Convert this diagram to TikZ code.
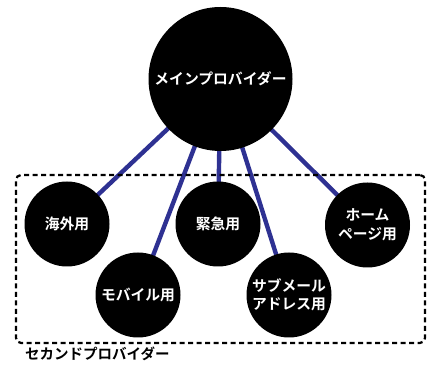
\documentclass[tikz,border=0pt]{standalone}
\usepackage{fontspec}
\newfontfamily\jpfont{Noto Sans CJK JP Bold}
\usetikzlibrary{backgrounds}
\definecolor{linkblue}{RGB}{46,49,146}
\tikzset{
  bigcirc/.style={circle, fill=black, minimum size=144pt, inner sep=0pt, text=white, font=\jpfont\fontsize{14.8}{18}\selectfont, align=center},
  smallcirc/.style={circle, fill=black, minimum size=85pt, inner sep=0pt, text=white, font=\jpfont\fontsize{14.8}{18.5}\selectfont, align=center},
  link/.style={draw=linkblue, line width=4.4pt},
  groupbox/.style={draw=black, line width=2.2pt, dash pattern=on 5pt off 3.5pt, rounded corners=5pt},
  grouplabel/.style={font=\jpfont\fontsize{14.5}{16}\selectfont, anchor=west, inner sep=0pt}
}
\begin{document}
\begin{tikzpicture}[x=1pt, y=-1pt]
\useasboundingbox (0,0) rectangle (437,366);
\node[groupbox, minimum width=409pt, minimum height=168pt, inner sep=0pt] (box) at (220.5,259) {};
\node[grouplabel] (lbl) at (25,354) {セカンドプロバイダー};
\node[bigcirc] (main) at (220.5,79) {メインプロバイダー};
\node[smallcirc] (kaigai) at (67,224) {海外用};
\node[smallcirc] (kinkyu) at (218,224) {緊急用};
\node[smallcirc] (home) at (367.5,225) {ホーム\\ページ用};
\node[smallcirc] (mobile) at (138,295) {モバイル用};
\node[smallcirc] (sub) at (289,295) {サブメール\\アドレス用};
\begin{scope}[on background layer]
\draw[link] (main.center) -- (kaigai.center);
\draw[link] (main.center) -- (mobile.center);
\draw[link] (main.center) -- (kinkyu.center);
\draw[link] (main.center) -- (sub.center);
\draw[link] (main.center) -- (home.center);
\end{scope}
\end{tikzpicture}
\end{document}
